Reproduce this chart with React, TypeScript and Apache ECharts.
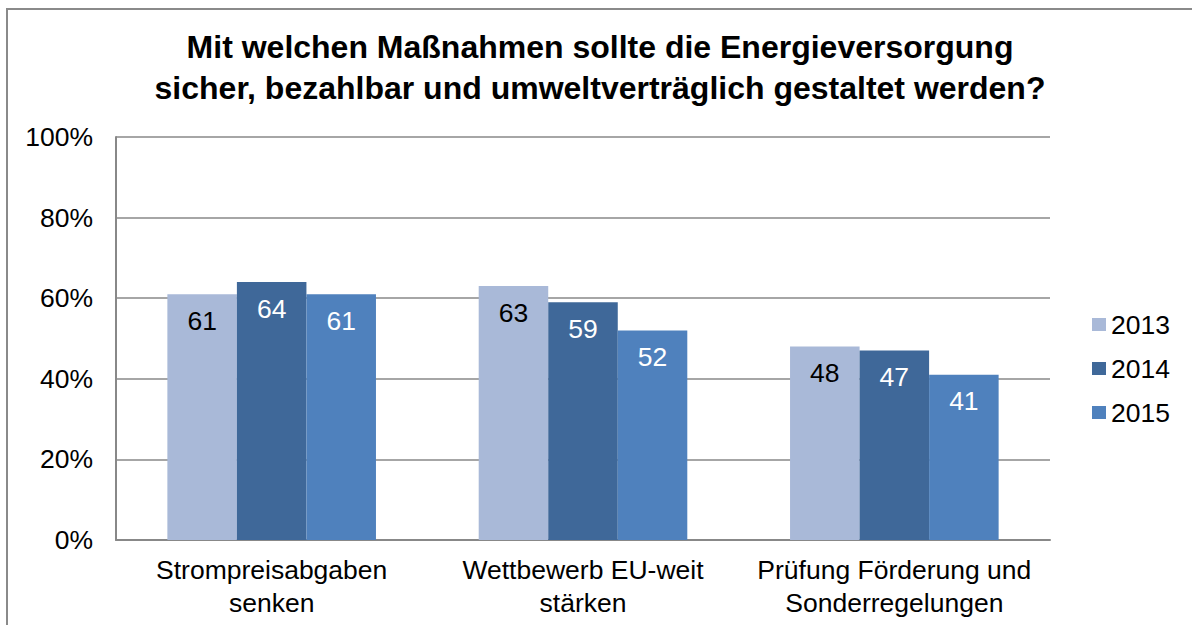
import React, { useEffect, useRef } from "react";
import * as echarts from "echarts";

const titleText = "Mit welchen Maßnahmen sollte die Energieversorgung\nsicher, bezahlbar und umweltverträglich gestaltet werden?";
const categories = [
  "Strompreisabgaben\nsenken",
  "Wettbewerb EU-weit\nstärken",
  "Prüfung Förderung und\nSonderregelungen",
];
const seriesNames = ["2013", "2014", "2015"];
const values2013 = [61, 63, 48];
const values2014 = [64, 59, 47];
const values2015 = [61, 52, 41];
const colors = ["#A9B9D8", "#3F6899", "#4F81BD"];
const labelColors = ["#000000", "#ffffff", "#ffffff"];

export default function App() {
  const ref = useRef<HTMLDivElement>(null);
  useEffect(() => {
    if (!ref.current) return;
    const chart = echarts.init(ref.current, undefined, { renderer: "svg" });
    const data = [values2013, values2014, values2015];
    const font = "Liberation Sans, Arial, sans-serif";
    const fs = 26.5;
    chart.setOption({
      animation: false,
      backgroundColor: "#ffffff",
      textStyle: { fontFamily: font },
      title: {
        text: titleText,
        left: 600,
        textAlign: "center",
        top: 26,
        padding: 0,
        textStyle: { fontSize: 32, fontWeight: "bold", color: "#000", lineHeight: 41, fontFamily: font },
      },
      graphic: [
        {
          type: "rect",
          shape: { x: 7, y: 9, width: 1300, height: 700 },
          style: { fill: "none", stroke: "#8a8a8a", lineWidth: 2 },
          silent: true,
        },
      ],
      legend: {
        orient: "vertical",
        left: 1092,
        top: 311,
        padding: 0,
        itemWidth: 14,
        itemHeight: 13,
        itemGap: 17,
        icon: "rect",
        textStyle: { fontSize: fs, color: "#000", fontFamily: font },
        data: seriesNames,
      },
      grid: { left: 116, top: 137, right: 142, bottom: 85, containLabel: false },
      xAxis: {
        type: "category",
        data: categories,
        axisLine: { lineStyle: { color: "#888", width: 2 } },
        axisTick: { show: false },
        axisLabel: { interval: 0, hideOverlap: false, fontSize: fs, color: "#000", lineHeight: 33, margin: 13, fontFamily: font },
      },
      yAxis: {
        type: "value",
        min: 0,
        max: 100,
        interval: 20,
        axisLine: { show: true, lineStyle: { color: "#888", width: 2 } },
        axisTick: { show: false },
        axisLabel: { formatter: "{value}%", fontSize: fs, color: "#000", margin: 23, fontFamily: font },
        splitLine: { lineStyle: { color: "#888", width: 1.5 } },
      },
      series: seriesNames.map((name, i) => ({
        name,
        type: "bar",
        data: data[i],
        barGap: "0%",
        barCategoryGap: "33%",
        itemStyle: { color: colors[i] },
        label: {
          show: true,
          position: "insideTop",
          distance: 13,
          fontSize: fs,
          color: labelColors[i],
          fontFamily: font,
        },
      })),
    });
    return () => chart.dispose();
  }, []);
  return <div ref={ref} style={{ position: "fixed", left: 0, top: 0, width: 1192, height: 625 }} />;
}
